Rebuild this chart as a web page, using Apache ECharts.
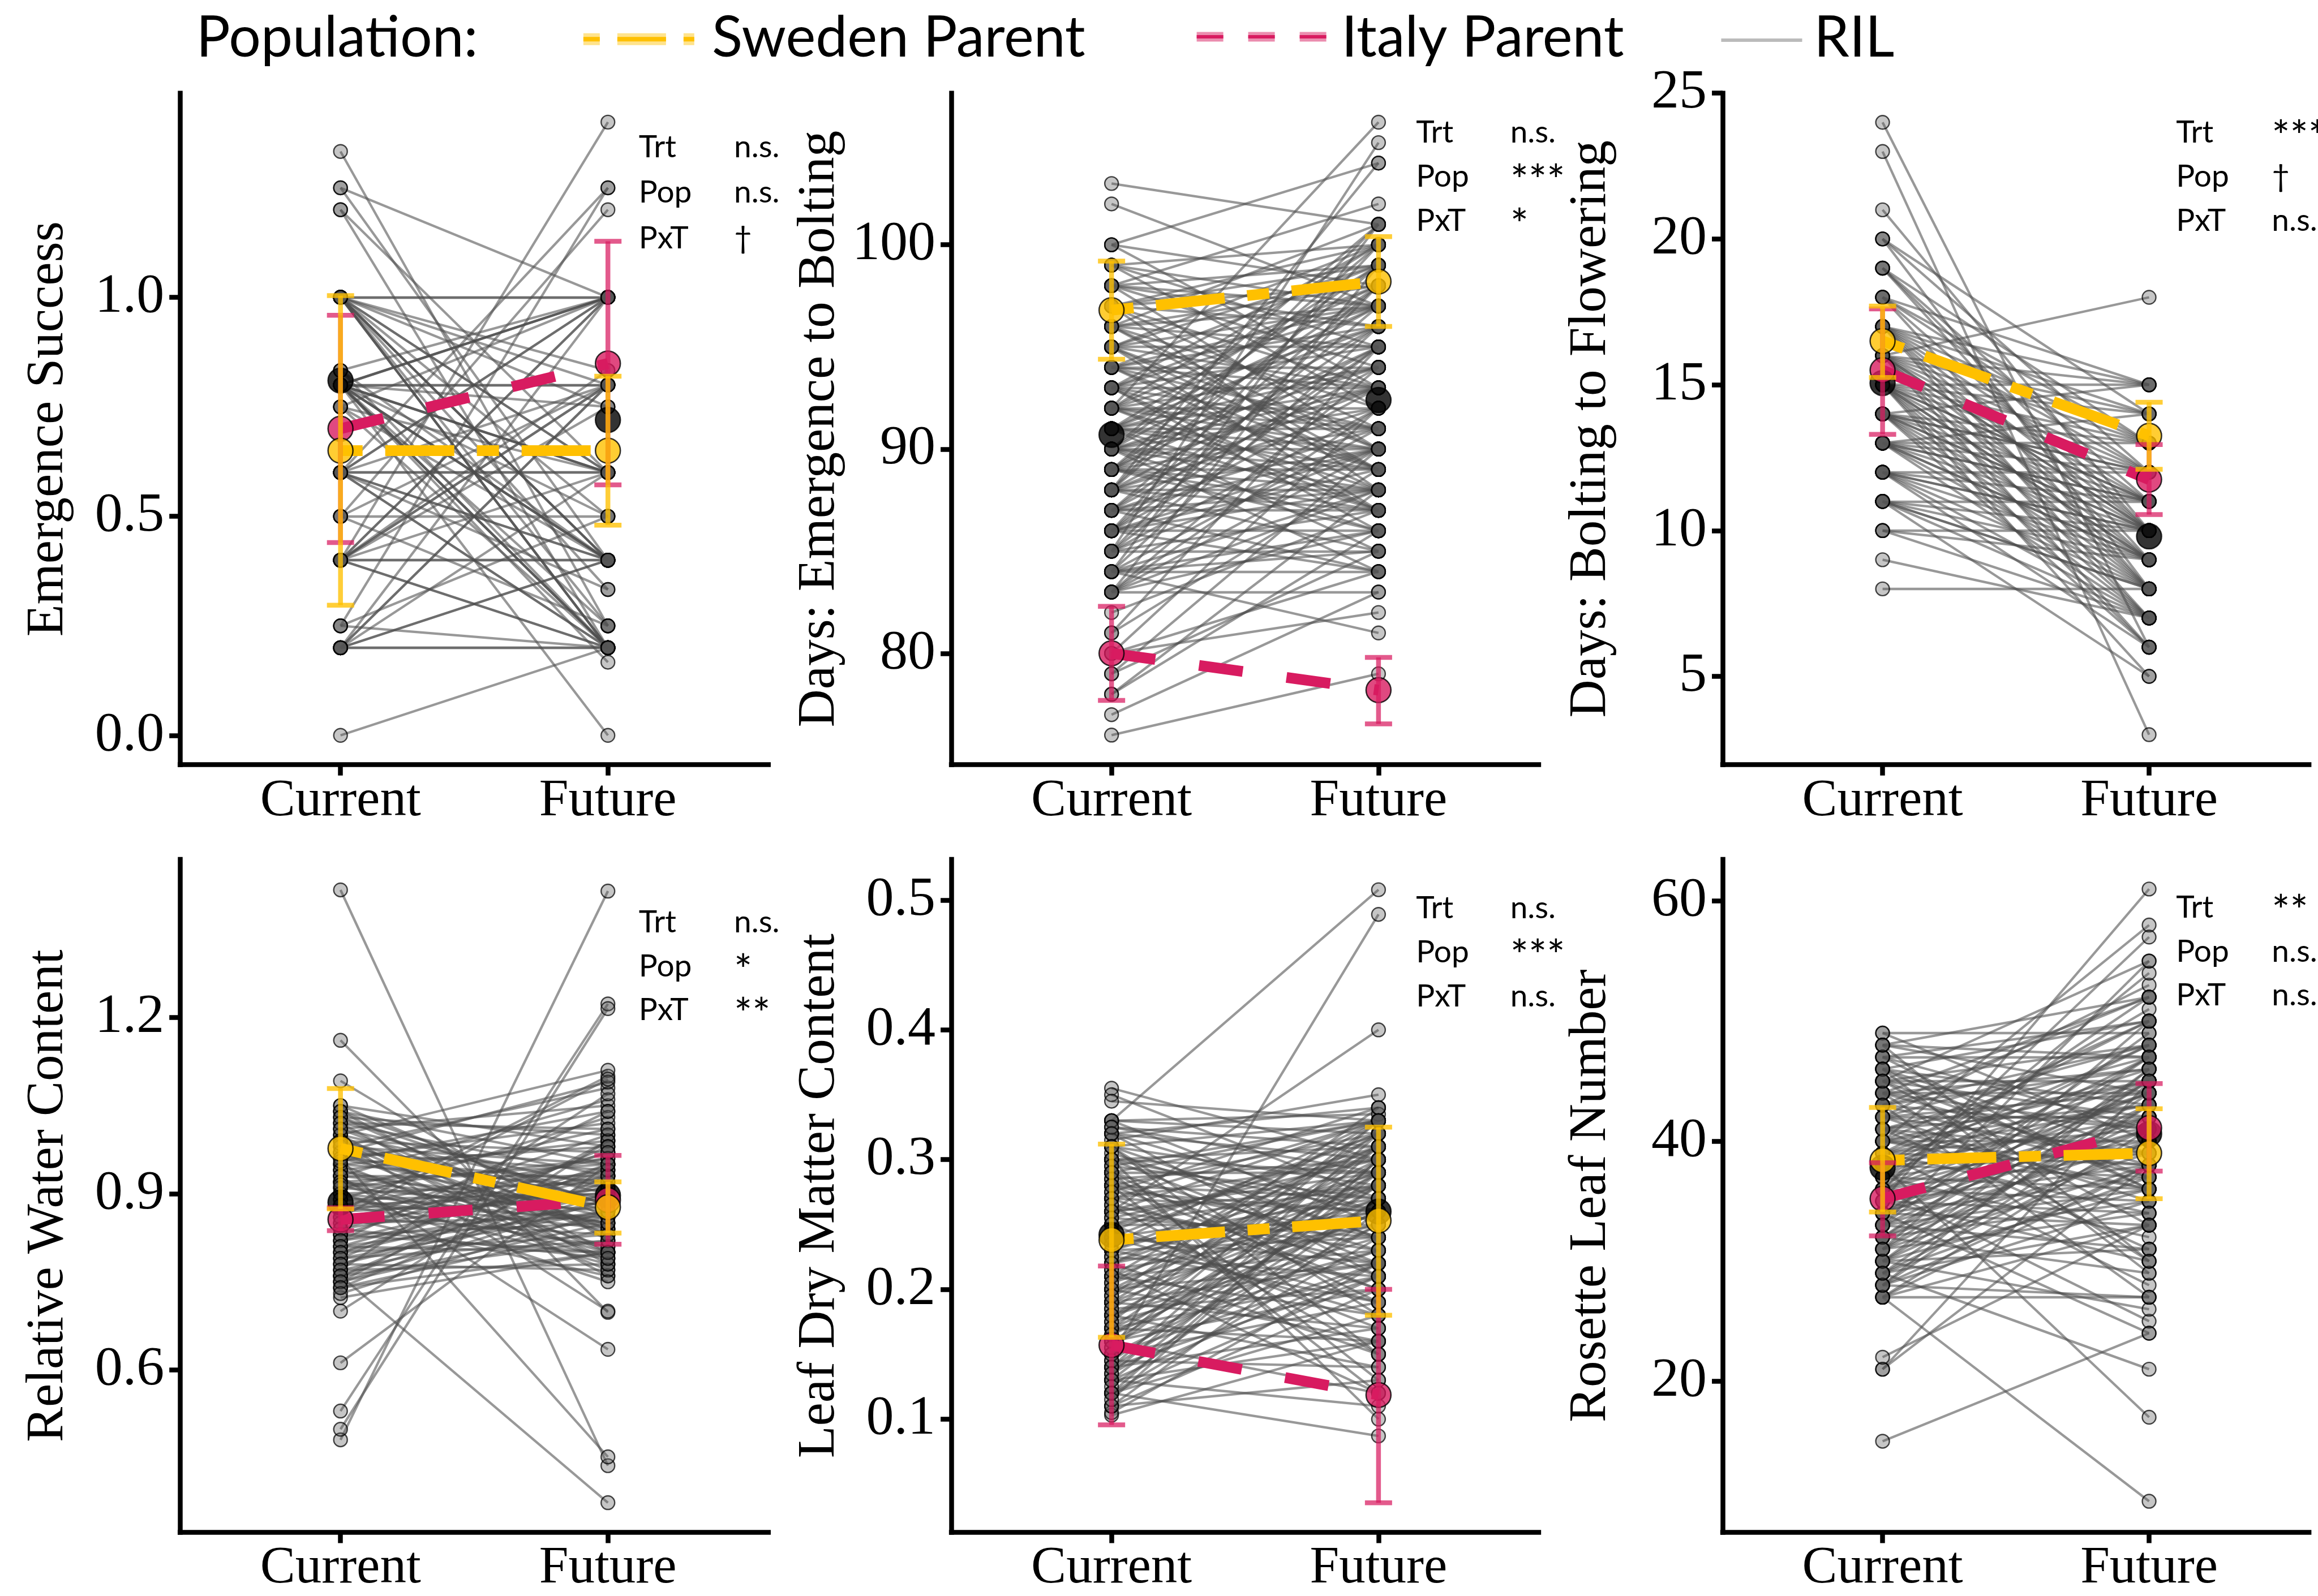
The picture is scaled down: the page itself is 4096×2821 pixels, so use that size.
<!DOCTYPE html>
<html>
<head>
<meta charset="utf-8">
<script src="https://cdn.jsdelivr.net/npm/echarts@6/dist/echarts.min.js"></script>
<style>
html, body { margin: 0; padding: 0; background: #fff; }
#chart { width: 4096px; height: 2821px; }
</style>
</head>
<body>
<div id="chart"></div>
<script>
// ---- data ----
const treatments = ['Current', 'Future']
const panelTitles = ['Emergence Success', 'Days: Emergence to Bolting', 'Days: Bolting to Flowering',
  'Relative Water Content', 'Leaf Dry Matter Content', 'Rosette Leaf Number']
const yMin = [-0.067, 74.55, 1.97, 0.3235, 0.0127, 7.41]
const yMax = [1.466, 107.42, 25, 1.469, 0.5314, 63.47]
const yTicks = [[0, 0.5, 1], [80, 90, 100], [5, 10, 15, 20, 25], [0.6, 0.9, 1.2], [0.1, 0.2, 0.3, 0.4, 0.5], [20, 40, 60]]
const yDecimals = [1, 0, 0, 1, 1, 0]

// [current, future] per panel
const rilMean = [[0.81, 0.72], [90.7, 92.4], [15.06, 9.8], [0.885, 0.897], [0.242, 0.26], [37.8, 40.6]]
const swedenMean = [[0.65, 0.65], [96.8, 98.2], [16.5, 13.25], [0.977, 0.877], [0.238, 0.253], [38.4, 39.0]]
const swedenLow = [[0.297, 0.48], [94.4, 96.0], [15.25, 12.1], [0.874, 0.833], [0.163, 0.18], [34.1, 35.2]]
const swedenHigh = [[1.004, 0.82], [99.2, 100.4], [17.7, 14.4], [1.079, 0.92], [0.312, 0.325], [42.8, 42.7]]
const italyMean = [[0.70, 0.849], [80.0, 78.2], [15.5, 11.75], [0.856, 0.889], [0.157, 0.1186], [35.2, 41.1]]
const italyLow = [[0.44, 0.572], [77.7, 76.55], [13.3, 10.55], [0.837, 0.814], [0.0955, 0.0355], [32.1, 37.5]]
const italyHigh = [[0.959, 1.128], [82.3, 79.8], [17.6, 12.95], [0.876, 0.965], [0.218, 0.20], [38.2, 44.8]]

const sigNames = ['Trt', 'Pop', 'PxT']
const sigValues = [['n.s.', 'n.s.', '†'], ['n.s.', '***', '*'], ['***', '†', 'n.s.'],
  ['n.s.', '*', '**'], ['n.s.', '***', 'n.s.'], ['**', 'n.s.', 'n.s.']]

// RIL reaction norms: [current, future]
const rilEmergence = [
  [1.333, 0.25], [1.25, 1.0], [1.25, 0.4], [1.2, 0.2], [1.2, 0.6],
  [1, 1], [1, 1], [1, 0.2], [1, 0.4], [1, 0.25], [1, 0.6], [1, 0.5], [1, 0.8], [1, 0.333], [1, 0.75], [1, 0.2], [1, 0.4], [1, 0.833],
  [0.833, 0.4], [0.833, 1], [0.833, 0.2],
  [0.8, 0.8], [0.8, 0.8], [0.8, 1], [0.8, 0.2], [0.8, 0.4], [0.8, 0.6], [0.8, 0.5], [0.8, 0.25], [0.8, 0.75], [0.8, 0.167], [0.8, 0],
  [0.8, 0.4], [0.8, 1], [0.8, 0.6], [0.8, 0.2],
  [0.75, 0.4], [0.75, 1], [0.75, 0.6], [0.75, 0.2],
  [0.6, 0.6], [0.6, 0.6], [0.6, 1], [0.6, 0.2], [0.6, 0.8], [0.6, 0.4], [0.6, 0.333], [0.6, 1.25],
  [0.5, 0.8], [0.5, 0.25], [0.5, 0.5], [0.5, 1.2],
  [0.4, 0.4], [0.4, 0.4], [0.4, 1], [0.4, 0.8], [0.4, 0.6], [0.4, 0.833], [0.4, 1.4], [0.4, 0.2], [0.4, 0.75],
  [0.25, 1.25], [0.25, 0.2], [0.25, 0.5],
  [0.2, 0.2], [0.2, 0.2], [0.2, 1], [0.2, 0.8], [0.2, 0.6], [0.2, 0.4],
  [0, 0.2],
  [1, 0.4], [1, 0.2], [0.8, 0.4], [0.8, 0.2], [0.8, 1], [0.6, 0.2], [0.6, 1], [0.4, 0.8], [0.4, 1], [0.2, 0.8],
  [0.2, 0.4], [1, 0.6], [0.8, 0.6], [0.6, 0.4], [0.4, 0.2]
]
const rilBolting = [
  [76, 79], [77, 83], [78, 86], [78, 88], [79, 85], [79, 90], [80, 84], [80, 92], [80, 82], [81, 89], [81, 95], [82, 87],
  [83, 83], [83, 86], [83, 90], [83, 94], [83, 99], [84, 84], [84, 88], [84, 91], [84, 96], [84, 101], [84, 81],
  [85, 85], [85, 87], [85, 92], [85, 95], [85, 105], [86, 86], [86, 89], [86, 90], [86, 93], [86, 97], [86, 100],
  [87, 84], [87, 87], [87, 91], [87, 94], [87, 98], [87, 88], [88, 85], [88, 88], [88, 90], [88, 92], [88, 95], [88, 99], [88, 104],
  [89, 86], [89, 89], [89, 91], [89, 93], [89, 96], [89, 100], [89, 87], [90, 84], [90, 88], [90, 90], [90, 92], [90, 94], [90, 97], [90, 101],
  [91, 85], [91, 89], [91, 91], [91, 93], [91, 96], [91, 99], [92, 87], [92, 90], [92, 92], [92, 94], [92, 98], [92, 106],
  [93, 86], [93, 89], [93, 93], [93, 95], [93, 97], [93, 100], [94, 88], [94, 91], [94, 94], [94, 96], [94, 99],
  [95, 87], [95, 90], [95, 93], [95, 97], [95, 100], [96, 89], [96, 92], [96, 95], [96, 98], [96, 101],
  [97, 88], [97, 91], [97, 96], [97, 98], [97, 100], [98, 90], [98, 94], [98, 97], [98, 99], [98, 102],
  [99, 92], [99, 95], [99, 100], [100, 93], [100, 98], [100, 104], [102, 97], [103, 101],
  [83, 92], [84, 86], [85, 90], [85, 98], [86, 88], [86, 95], [87, 90], [87, 96], [88, 87], [88, 93], [88, 101],
  [89, 88], [89, 95], [89, 98], [90, 86], [90, 89], [90, 93], [90, 99], [91, 87], [91, 90], [91, 94], [91, 97],
  [92, 88], [92, 91], [92, 96], [92, 100], [93, 87], [93, 91], [93, 98], [94, 89], [94, 93], [94, 97],
  [95, 89], [95, 95], [95, 99], [96, 90], [96, 97], [97, 93], [97, 99], [98, 96], [99, 97], [86, 84], [84, 85], [83, 88]
]
const rilFlowering = [
  [24, 6], [23, 3], [21, 10], [20, 8], [20, 12], [19, 9], [19, 11], [19, 13], [18, 15], [18, 10], [18, 8], [18, 12],
  [17, 13], [17, 9], [17, 11], [17, 14], [17, 7], [17, 12], [17, 10],
  [16, 18], [16, 15], [16, 12], [16, 10], [16, 8], [16, 13], [16, 11], [16, 9], [16, 7],
  [15, 14], [15, 12], [15, 10], [15, 9], [15, 8], [15, 11], [15, 13], [15, 7], [15, 6], [15, 15],
  [14, 12], [14, 10], [14, 8], [14, 11], [14, 13], [14, 9], [14, 7], [14, 15],
  [13, 11], [13, 9], [13, 7], [13, 12], [13, 8], [13, 10], [13, 14],
  [12, 10], [12, 8], [12, 12], [12, 9], [12, 6], [12, 11],
  [11, 9], [11, 7], [11, 11], [11, 10], [11, 8], [11, 5],
  [10, 10], [10, 9], [10, 7], [9, 7], [8, 8],
  [18, 13], [17, 8], [17, 15], [16, 14], [16, 10], [15, 11], [15, 9], [14, 10], [14, 12], [13, 9],
  [13, 11], [12, 7], [12, 10], [11, 8], [19, 10], [20, 14], [16, 6], [14, 6], [15, 5], [13, 13]
]
const rilWater = [
  [1.417, 0.437], [0.481, 1.415], [0.530, 1.223], [0.499, 1.215], [1.161, 0.698], [1.092, 0.82], [0.612, 0.95], [0.70, 0.99],
  [0.723, 0.80], [0.76, 0.374], [0.96, 0.452], [0.93, 0.635], [0.99, 0.70],
  [1.05, 0.86], [1.04, 0.95], [1.04, 0.80], [1.03, 1.00], [1.03, 0.88], [1.02, 0.78], [1.02, 0.93], [1.01, 1.05], [1.01, 0.84],
  [1.00, 0.90], [1.00, 0.76], [0.99, 0.97], [0.99, 0.83], [0.98, 1.08], [0.98, 0.89], [0.97, 0.79], [0.97, 0.94],
  [0.96, 0.86], [0.96, 1.02], [0.95, 0.91], [0.95, 0.77], [0.94, 0.99], [0.94, 0.85], [0.93, 0.88], [0.93, 1.06],
  [0.92, 0.80], [0.92, 0.95], [0.91, 0.87], [0.91, 1.01], [0.90, 0.92], [0.90, 0.78], [0.89, 0.84], [0.89, 1.03],
  [0.88, 0.96], [0.88, 0.81], [0.87, 0.89], [0.87, 1.10], [0.86, 0.93], [0.86, 0.76], [0.85, 0.86], [0.85, 1.00],
  [0.84, 0.91], [0.84, 0.79], [0.83, 0.97], [0.83, 0.85], [0.82, 0.88], [0.82, 1.04], [0.81, 0.94], [0.81, 0.80],
  [0.80, 0.90], [0.80, 0.83], [0.79, 0.98], [0.79, 0.87], [0.78, 0.92], [0.78, 0.77], [0.77, 0.86], [0.77, 1.07],
  [0.76, 0.95], [0.76, 0.82], [0.75, 0.89], [0.75, 0.99], [0.74, 0.84], [0.74, 0.93],
  [1.00, 1.11], [0.97, 1.09], [0.90, 0.75], [0.86, 1.095], [0.92, 0.85], [0.88, 0.90],
  [1.05, 0.98], [1.04, 0.88], [1.03, 0.83], [1.02, 1.01], [1.01, 0.91], [0.99, 0.87], [0.98, 0.95], [0.97, 0.84],
  [0.96, 0.92], [0.95, 0.98], [0.94, 0.81], [0.93, 0.93], [0.92, 0.88], [0.91, 0.96], [0.90, 0.85], [0.89, 0.90],
  [0.88, 0.86], [0.87, 0.94], [0.86, 0.83], [0.85, 0.91], [0.84, 0.97], [0.83, 0.80], [0.82, 0.93], [0.81, 0.87],
  [0.80, 0.95], [0.79, 0.82], [0.78, 0.89], [0.77, 0.78], [0.76, 0.90], [0.75, 0.85], [0.74, 0.80], [0.73, 0.87],
  [0.985, 0.80], [0.955, 1.04], [0.915, 0.79]
]
const rilDryMatter = [
  [0.33, 0.508], [0.15, 0.489], [0.26, 0.40], [0.355, 0.30], [0.35, 0.27], [0.345, 0.33], [0.11, 0.13], [0.103, 0.16],
  [0.105, 0.22], [0.12, 0.087], [0.30, 0.10], [0.28, 0.12],
  [0.33, 0.32], [0.33, 0.25], [0.32, 0.30], [0.32, 0.21], [0.32, 0.34], [0.31, 0.28], [0.31, 0.18], [0.31, 0.33],
  [0.30, 0.26], [0.30, 0.31], [0.30, 0.22], [0.29, 0.29], [0.29, 0.19], [0.29, 0.33], [0.28, 0.27], [0.28, 0.24], [0.28, 0.32],
  [0.27, 0.30], [0.27, 0.20], [0.27, 0.26], [0.26, 0.28], [0.26, 0.23], [0.26, 0.33], [0.25, 0.25], [0.25, 0.31], [0.25, 0.17],
  [0.24, 0.27], [0.24, 0.22], [0.24, 0.32], [0.23, 0.29], [0.23, 0.24], [0.23, 0.19], [0.22, 0.26], [0.22, 0.31], [0.22, 0.15],
  [0.21, 0.28], [0.21, 0.23], [0.21, 0.33], [0.20, 0.25], [0.20, 0.30], [0.20, 0.16], [0.19, 0.27], [0.19, 0.22], [0.19, 0.32],
  [0.18, 0.24], [0.18, 0.29], [0.18, 0.14], [0.17, 0.26], [0.17, 0.21], [0.17, 0.31], [0.16, 0.23], [0.16, 0.28], [0.16, 0.12],
  [0.15, 0.25], [0.15, 0.19], [0.14, 0.27], [0.14, 0.17], [0.14, 0.32], [0.13, 0.22], [0.13, 0.29], [0.13, 0.11],
  [0.12, 0.24], [0.12, 0.18], [0.12, 0.30], [0.11, 0.26], [0.11, 0.20], [0.33, 0.335], [0.325, 0.29], [0.315, 0.35],
  [0.305, 0.24], [0.295, 0.33], [0.285, 0.21], [0.275, 0.34], [0.265, 0.15], [0.255, 0.30], [0.245, 0.19], [0.235, 0.33],
  [0.225, 0.28], [0.215, 0.12], [0.205, 0.27], [0.195, 0.34], [0.185, 0.20], [0.175, 0.33], [0.165, 0.26], [0.155, 0.30],
  [0.145, 0.14], [0.135, 0.25],
  [0.325, 0.31], [0.32, 0.26], [0.31, 0.24], [0.30, 0.29], [0.295, 0.27], [0.29, 0.23], [0.285, 0.30], [0.28, 0.20],
  [0.275, 0.26], [0.27, 0.33], [0.265, 0.22], [0.26, 0.29], [0.255, 0.24], [0.25, 0.28], [0.245, 0.32], [0.24, 0.18],
  [0.235, 0.26], [0.23, 0.31], [0.225, 0.21], [0.22, 0.29], [0.215, 0.25], [0.21, 0.18], [0.205, 0.32], [0.20, 0.22],
  [0.195, 0.28], [0.19, 0.17], [0.185, 0.31], [0.18, 0.26], [0.175, 0.23], [0.17, 0.16], [0.165, 0.29], [0.16, 0.20],
  [0.155, 0.33], [0.15, 0.22], [0.145, 0.28], [0.14, 0.21], [0.135, 0.31], [0.13, 0.16], [0.125, 0.27], [0.12, 0.21],
  [0.115, 0.30], [0.31, 0.15], [0.29, 0.13]
]
const rilLeaves = [
  [15, 24], [21, 45], [21, 38], [22, 33], [49, 49], [49, 40], [48, 44], [48, 52], [47, 36], [47, 47], [46, 50], [46, 29],
  [45, 42], [45, 55], [45, 33], [44, 46], [44, 38], [44, 30], [43, 48], [43, 41], [43, 27], [42, 44], [42, 35], [42, 53],
  [41, 39], [41, 47], [41, 31], [40, 43], [40, 36], [40, 58], [40, 50], [39, 41], [39, 34], [39, 46], [39, 28],
  [38, 45], [38, 37], [38, 51], [38, 17], [37, 40], [37, 32], [37, 48], [36, 42], [36, 35], [36, 25], [36, 54],
  [35, 44], [35, 38], [35, 61], [35, 30], [34, 41], [34, 47], [34, 33], [34, 24], [33, 43], [33, 36], [33, 49],
  [32, 39], [32, 45], [32, 29], [31, 42], [31, 34], [31, 50], [30, 40], [30, 46], [30, 26], [29, 37], [29, 44], [29, 21],
  [28, 43], [28, 38], [28, 27], [27, 27], [27, 10], [27, 41], [27, 33],
  [46, 43], [44, 52], [42, 39], [40, 45], [38, 42], [36, 47], [34, 37], [32, 41], [30, 36], [37, 44], [39, 50],
  [41, 43], [43, 46], [45, 48], [47, 41],
  [48, 47], [47, 50], [46, 39], [45, 45], [44, 41], [43, 37], [42, 48], [41, 45], [40, 40], [39, 43], [38, 39],
  [37, 36], [36, 44], [35, 41], [34, 45], [33, 40], [32, 35], [31, 38], [30, 43], [29, 40], [28, 35], [27, 38],
  [46, 36], [44, 44], [42, 42], [40, 38], [38, 48], [36, 39], [34, 42], [32, 47], [30, 31], [28, 46], [45, 37],
  [43, 52], [41, 36], [39, 38], [37, 52], [35, 34], [33, 31], [31, 45], [29, 33], [48, 30], [33, 55], [36, 57]
]
const panelRIL = [rilEmergence, rilBolting, rilFlowering, rilWater, rilDryMatter, rilLeaves]

// ---- layout (reference pixels, scaled by S) ----
const S = 0.867
const colLeft = [367, 1939, 3511]
const colWidth = [1199, 1197, 1195]
const rowTop = [190, 1752]
const rowHeight = [1369, 1372]
const sigNameX = [1302, 2886, 4435, 1302, 2886, 4435]
const sigValueX = [1496, 3078, 4630, 1496, 3078, 4630]
const sigRowY = [[300, 392, 486], [270, 360, 450], [270, 360, 450], [1880, 1970, 2059], [1851, 1941, 2031], [1850, 1940, 2029]]

const SWE = '#FFC000'
const ITA = '#D81B60'
const serif = 'Liberation Serif'
const sans = 'Lato'

const grids = [], xAxes = [], yAxes = [], series = [], graphic = []

function errorBarSeries(i, color, lo, hi) {
  return {
    type: 'custom', xAxisIndex: i, yAxisIndex: i, z: 7,
    data: [[1, lo[i][0], hi[i][0]], [2, lo[i][1], hi[i][1]]],
    renderItem: function (params, api) {
      const a = api.coord([api.value(0), api.value(1)])
      const b = api.coord([api.value(0), api.value(2)])
      const hw = 24
      const st = { stroke: color, lineWidth: 8.5 }
      return {
        type: 'group',
        children: [
          { type: 'line', shape: { x1: a[0], y1: a[1], x2: b[0], y2: b[1] }, style: st },
          { type: 'line', shape: { x1: a[0] - hw, y1: a[1], x2: a[0] + hw, y2: a[1] }, style: st },
          { type: 'line', shape: { x1: b[0] - hw, y1: b[1], x2: b[0] + hw, y2: b[1] }, style: st }
        ]
      }
    }
  }
}

for (let i = 0; i < 6; i++) {
  const r = Math.floor(i / 3), c = i % 3
  grids.push({
    left: colLeft[c] * S, top: rowTop[r] * S,
    width: colWidth[c] * S, height: rowHeight[r] * S,
    outerBoundsMode: 'none'
  })
  xAxes.push({
    gridIndex: i, type: 'value', min: 0.4, max: 2.6,
    axisLine: { show: true, onZero: false, lineStyle: { color: '#000', width: 8.5, cap: 'square' } },
    axisTick: { show: true, customValues: [1, 2], length: 19, lineStyle: { color: '#000', width: 8.5 } },
    axisLabel: {
      customValues: [1, 2], formatter: v => treatments[Math.round(v) - 1],
      fontFamily: serif, fontSize: 93, color: '#000', margin: 18
    },
    splitLine: { show: false }
  })
  yAxes.push({
    gridIndex: i, type: 'value', min: yMin[i], max: yMax[i],
    name: panelTitles[i], nameLocation: 'middle', nameGap: 186,
    nameTextStyle: { fontFamily: serif, fontSize: 93, color: '#000' },
    axisLine: { show: true, onZero: false, lineStyle: { color: '#000', width: 8.5, cap: 'square' } },
    axisTick: { show: true, customValues: yTicks[i], length: 19, lineStyle: { color: '#000', width: 8.5 } },
    axisLabel: {
      customValues: yTicks[i], formatter: v => v.toFixed(yDecimals[i]),
      fontFamily: serif, fontSize: 98, color: '#000', margin: 28
    },
    splitLine: { show: false }
  })

  const pairs = panelRIL[i]
  series.push({
    type: 'lines', coordinateSystem: 'cartesian2d', xAxisIndex: i, yAxisIndex: i, z: 1,
    silent: true,
    lineStyle: { color: '#4d4d4d', width: 4.3, opacity: 0.58 },
    data: pairs.map(p => ({ coords: [[1, p[0]], [2, p[1]]] }))
  })
  const pts = []
  pairs.forEach(p => { pts.push([1, p[0]]); pts.push([2, p[1]]) })
  series.push({
    type: 'scatter', xAxisIndex: i, yAxisIndex: i, z: 2, symbolSize: 24,
    itemStyle: { color: 'rgba(85,85,85,0.42)', borderColor: 'rgba(0,0,0,0.9)', borderWidth: 2.4 },
    data: pts
  })
  // parent mean lines
  series.push({
    type: 'line', xAxisIndex: i, yAxisIndex: i, z: 4, symbol: 'none',
    lineStyle: { color: ITA, width: 19, type: [78, 78], cap: 'butt' },
    data: [[1, italyMean[i][0]], [2, italyMean[i][1]]]
  })
  series.push({
    type: 'line', xAxisIndex: i, yAxisIndex: i, z: 4, symbol: 'none',
    lineStyle: { color: SWE, width: 19, type: [39, 40, 122, 40], cap: 'butt' },
    data: [[1, swedenMean[i][0]], [2, swedenMean[i][1]]]
  })
  // means
  series.push({
    type: 'scatter', xAxisIndex: i, yAxisIndex: i, z: 5, symbolSize: 44,
    itemStyle: { color: '#000', borderColor: '#000', borderWidth: 2.5 },
    data: [[1, rilMean[i][0]], [2, rilMean[i][1]]]
  })
  series.push({
    type: 'scatter', xAxisIndex: i, yAxisIndex: i, z: 6, symbolSize: 44,
    itemStyle: { color: ITA, borderColor: '#000', borderWidth: 2.5 },
    data: [[1, italyMean[i][0]], [2, italyMean[i][1]]]
  })
  series.push({
    type: 'scatter', xAxisIndex: i, yAxisIndex: i, z: 6, symbolSize: 44,
    itemStyle: { color: SWE, borderColor: '#000', borderWidth: 2.5 },
    data: [[1, swedenMean[i][0]], [2, swedenMean[i][1]]]
  })
  series.push(errorBarSeries(i, 'rgba(216,27,96,0.72)', italyLow, italyHigh))
  series.push(errorBarSeries(i, 'rgba(255,192,0,0.78)', swedenLow, swedenHigh))

  // significance table
  for (let k = 0; k < 3; k++) {
    const v = sigValues[i][k]
    const star = v.indexOf('*') >= 0
    graphic.push({
      type: 'text', z: 100,
      style: { text: sigNames[k], x: sigNameX[i] * S, y: sigRowY[i][k] * S, fill: '#000',
        font: '55px ' + sans, align: 'left', verticalAlign: 'middle', textAlign: 'left', textVerticalAlign: 'middle' }
    })
    graphic.push({
      type: 'text', z: 100,
      style: { text: v, x: sigValueX[i] * S, y: sigRowY[i][k] * S + (star ? 9 : 0), fill: '#000',
        font: (star ? '76px ' : '55px ') + sans, align: 'left', verticalAlign: 'middle', textAlign: 'left', textVerticalAlign: 'middle' }
    })
  }
}

// legend drawn as graphic
function legText(txt, x) {
  return {
    type: 'text', z: 100,
    style: { text: txt, x: x * S, y: 78 * S, fill: '#000', font: '100px ' + sans,
      align: 'left', verticalAlign: 'middle', textAlign: 'left', textVerticalAlign: 'middle' }
  }
}
function legLine(x1, x2, y, color, w, dash) {
  return {
    type: 'line', z: 100,
    shape: { x1: x1 * S, y1: y * S, x2: x2 * S, y2: y * S },
    style: { stroke: color, lineWidth: w, lineDash: dash || null, lineCap: 'butt' }
  }
}
graphic.push(legText('Population:', 400))
graphic.push(legLine(1189, 1415, 80, 'rgba(255,192,0,0.45)', 21, [29, 31, 86, 31]))
graphic.push(legLine(1189, 1415, 80, SWE, 8, [29, 31, 86, 31]))
graphic.push(legText('Sweden Parent', 1451))
graphic.push(legLine(2439, 2704, 75, 'rgba(216,27,96,0.5)', 17, [47, 44]))
graphic.push(legLine(2439, 2704, 75, ITA, 6, [47, 44]))
graphic.push(legText('Italy Parent', 2734))
graphic.push(legLine(3508, 3673, 82, '#BBBBBB', 6))
graphic.push(legText('RIL', 3697))

const chart = echarts.init(document.getElementById('chart'))
chart.setOption({
  animation: false,
  backgroundColor: '#fff',
  grid: grids,
  xAxis: xAxes,
  yAxis: yAxes,
  series: series,
  graphic: graphic
})
</script>
</body>
</html>
